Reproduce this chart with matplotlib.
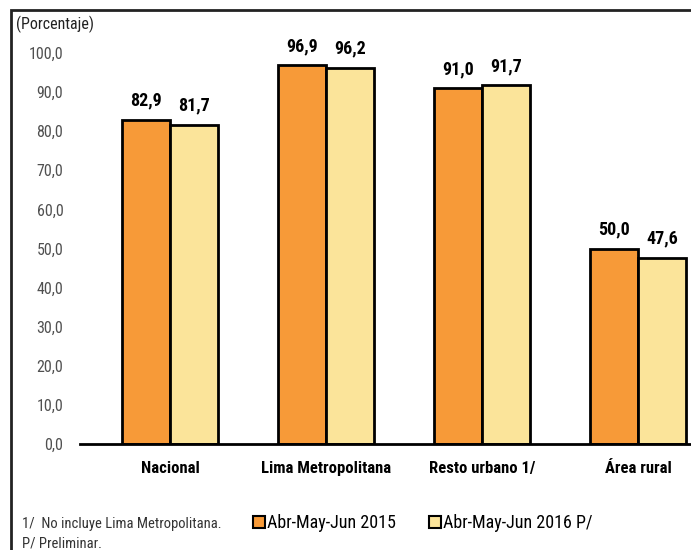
import matplotlib
matplotlib.use("Agg")
import matplotlib.pyplot as plt
from matplotlib.patches import Rectangle
import numpy as np

categories = ["Nacional", "Lima Metropolitana", "Resto urbano 1/", "Área rural"]
s2015 = [82.9, 96.9, 91.0, 50.0]
s2016 = [81.7, 96.2, 91.7, 47.6]
series_names = ["Abr-May-Jun 2015", "Abr-May-Jun 2016 P/"]
yticks = [0, 10, 20, 30, 40, 50, 60, 70, 80, 90, 100]

c_orange = "#F79A38"
c_yellow = "#FBE49A"

plt.rcParams['font.family'] = ["Roboto Condensed", "PT Sans Narrow", "Liberation Sans", "DejaVu Sans"]

W, H = 691, 550
fig = plt.figure(figsize=(W/100, H/100), dpi=100)

# outer frame (cropped at right/bottom)
fig.patches.append(Rectangle((11/W, -0.1), 1.2, 1 - 10/H + 0.1, transform=fig.transFigure,
                             fill=False, edgecolor="#222222", linewidth=2))

ax = fig.add_axes([80/W, 1 - 444/H, 1 - 80/W, (444 - 53)/H])
x = np.arange(len(categories))
bw = 48/156
ax.bar(x - bw/2, s2015, width=bw, color=c_orange, edgecolor="black", linewidth=2, zorder=3)
ax.bar(x + bw/2, s2016, width=bw, color=c_yellow, edgecolor="black", linewidth=2, zorder=3)

for xi, v in zip(x - bw/2, s2015):
    ax.text(xi, v + 2.6, f"{v:.1f}".replace(".", ","), ha="center", va="bottom",
            fontsize=13, fontweight="bold")
for xi, v in zip(x + bw/2, s2016):
    ax.text(xi, v + 2.6, f"{v:.1f}".replace(".", ","), ha="center", va="bottom",
            fontsize=13, fontweight="bold")

ax.set_xlim((80 - 170)/156, (691 - 170)/156)
ax.set_ylim(0, 100)
ax.set_yticks(yticks)
ax.set_yticklabels([f"{t:.1f}".replace(".", ",") for t in yticks], color="#505050", fontsize=11.5)
ax.tick_params(axis="y", length=0, pad=12)
ax.set_xticks(x)
ax.set_xticklabels(categories, fontsize=12, fontweight="bold")
ax.tick_params(axis="x", length=0, pad=12)
for s in ["top", "right", "left"]:
    ax.spines[s].set_visible(False)
ax.spines["bottom"].set_linewidth(2)
ax.spines["bottom"].set_zorder(4)

fig.text(16/W, 1 - 24/H, "(Porcentaje)", fontsize=11.5, color="#222222", va="center")
fig.text(22/W, 1 - 524/H, "1/  No incluye Lima Metropolitana.", fontsize=10.5, color="#333333", va="center")
fig.text(22/W, 1 - 544/H, "P/ Preliminar.", fontsize=10.5, color="#333333", va="center")

handles = [Rectangle((0, 0), 1, 1, facecolor=c_orange, edgecolor="black", linewidth=1.5),
           Rectangle((0, 0), 1, 1, facecolor=c_yellow, edgecolor="black", linewidth=1.5)]
fig.legend(handles, series_names, loc="center left", bbox_to_anchor=(253/W, 1 - 523/H),
           ncol=2, frameon=False, fontsize=13, handlelength=0.65, handleheight=0.65,
           handletextpad=0.15, columnspacing=1.8, borderpad=0, borderaxespad=0)

fig.savefig("out.png", dpi=100)
